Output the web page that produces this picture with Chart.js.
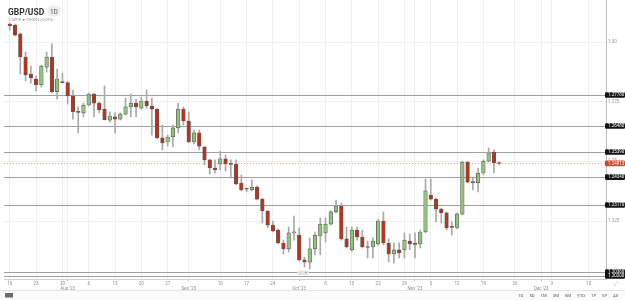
<!DOCTYPE html>
<html>
<head>
<meta charset="utf-8">
<script src="https://cdn.jsdelivr.net/npm/chart.js@4.4.0/dist/chart.umd.min.js"></script>
<style>
  html, body { margin: 0; padding: 0; background: #fff; }
  #c { display: block; }
</style>
</head>
<body>
<canvas id="c" width="625" height="300"></canvas>
<script>
// GBP/USD daily candles, Jul 17 - Nov 23 2023
const symbol = 'GBP/USD';
const interval = '1D';
const quoteText = '1.24910';
const changeText = '0.00016 (-0.01%)';
const firstDay = Date.UTC(2023, 6, 17);
const lastFutureDay = Date.UTC(2023, 11, 13);

const opens = [1.3075, 1.3071, 1.3034, 1.2937, 1.2866, 1.2845, 1.2820, 1.2895, 1.2937, 1.2792,
  1.2832, 1.2830, 1.2774, 1.2707, 1.2703, 1.2736, 1.2782, 1.2744, 1.2719, 1.2673,
  1.2686, 1.2677, 1.2698, 1.2728, 1.2744, 1.2723, 1.2753, 1.2732, 1.2719, 1.2598,
  1.2581, 1.2602, 1.2640, 1.2719, 1.2669, 1.2581, 1.2619, 1.2560, 1.2506, 1.2472,
  1.2489, 1.2510, 1.2489, 1.2487, 1.2409, 1.2384, 1.2380, 1.2392, 1.2342, 1.2292,
  1.2233, 1.2212, 1.2158, 1.2133, 1.2200, 1.2191, 1.2087, 1.2078, 1.2133, 1.2187,
  1.2200, 1.2237, 1.2288, 1.2313, 1.2175, 1.2129, 1.2212, 1.2183, 1.2141, 1.2141,
  1.2154, 1.2250, 1.2158, 1.2112, 1.2129, 1.2129, 1.2166, 1.2154, 1.2154, 1.2204,
  1.2359, 1.2342, 1.2300, 1.2284, 1.2225, 1.2223, 1.2279, 1.2497, 1.2413, 1.2411,
  1.2451, 1.2501, 1.2539, 1.2493];
const highs = [1.3080, 1.3075, 1.3038, 1.2958, 1.2899, 1.2858, 1.2903, 1.2958, 1.2992, 1.2887,
  1.2870, 1.2834, 1.2799, 1.2728, 1.2744, 1.2786, 1.2784, 1.2749, 1.2816, 1.2707,
  1.2703, 1.2703, 1.2765, 1.2782, 1.2761, 1.2770, 1.2799, 1.2765, 1.2721, 1.2652,
  1.2610, 1.2652, 1.2744, 1.2728, 1.2707, 1.2631, 1.2631, 1.2564, 1.2508, 1.2506,
  1.2543, 1.2527, 1.2506, 1.2506, 1.2443, 1.2388, 1.2422, 1.2397, 1.2346, 1.2294,
  1.2250, 1.2217, 1.2170, 1.2225, 1.2271, 1.2221, 1.2099, 1.2179, 1.2204, 1.2263,
  1.2263, 1.2294, 1.2338, 1.2325, 1.2225, 1.2225, 1.2225, 1.2212, 1.2166, 1.2179,
  1.2258, 1.2288, 1.2175, 1.2158, 1.2158, 1.2200, 1.2196, 1.2200, 1.2212, 1.2426,
  1.2426, 1.2346, 1.2304, 1.2288, 1.2246, 1.2284, 1.2501, 1.2499, 1.2430, 1.2472,
  1.2506, 1.2556, 1.2548, 1.2497];
const lows = [1.3050, 1.3025, 1.2866, 1.2837, 1.2828, 1.2795, 1.2811, 1.2874, 1.2786, 1.2761,
  1.2828, 1.2740, 1.2677, 1.2619, 1.2686, 1.2732, 1.2686, 1.2703, 1.2673, 1.2665,
  1.2619, 1.2673, 1.2694, 1.2686, 1.2686, 1.2719, 1.2723, 1.2610, 1.2594, 1.2548,
  1.2564, 1.2560, 1.2619, 1.2652, 1.2579, 1.2573, 1.2548, 1.2485, 1.2447, 1.2451,
  1.2464, 1.2460, 1.2430, 1.2401, 1.2376, 1.2372, 1.2376, 1.2338, 1.2242, 1.2221,
  1.2204, 1.2154, 1.2112, 1.2120, 1.2170, 1.2082, 1.2057, 1.2049, 1.2108, 1.2108,
  1.2162, 1.2233, 1.2284, 1.2170, 1.2137, 1.2124, 1.2170, 1.2137, 1.2095, 1.2095,
  1.2149, 1.2149, 1.2078, 1.2074, 1.2095, 1.2095, 1.2129, 1.2095, 1.2137, 1.2200,
  1.2338, 1.2246, 1.2242, 1.2212, 1.2191, 1.2217, 1.2275, 1.2409, 1.2380, 1.2372,
  1.2443, 1.2497, 1.2451, 1.2485];
const closes = [1.3067, 1.3029, 1.2937, 1.2862, 1.2849, 1.2820, 1.2899, 1.2937, 1.2792, 1.2845,
  1.2830, 1.2774, 1.2707, 1.2705, 1.2736, 1.2782, 1.2744, 1.2715, 1.2675, 1.2690,
  1.2677, 1.2698, 1.2728, 1.2744, 1.2728, 1.2753, 1.2732, 1.2719, 1.2598, 1.2577,
  1.2602, 1.2640, 1.2719, 1.2669, 1.2581, 1.2619, 1.2564, 1.2506, 1.2472, 1.2464,
  1.2510, 1.2489, 1.2487, 1.2405, 1.2380, 1.2383, 1.2392, 1.2342, 1.2292, 1.2233,
  1.2208, 1.2158, 1.2133, 1.2200, 1.2204, 1.2087, 1.2078, 1.2133, 1.2191, 1.2237,
  1.2237, 1.2288, 1.2313, 1.2175, 1.2141, 1.2212, 1.2183, 1.2141, 1.2139, 1.2166,
  1.2250, 1.2158, 1.2112, 1.2129, 1.2116, 1.2170, 1.2154, 1.2152, 1.2204, 1.2376,
  1.2342, 1.2300, 1.2284, 1.2221, 1.2223, 1.2279, 1.2497, 1.2413, 1.2411, 1.2451,
  1.2501, 1.2535, 1.2493, 1.2491];

// drawn price levels and their tags
const levels = [1.2778, 1.2648, 1.2539, 1.2434, 1.2317, 1.2036, 1.2020];
const levelLabels = ['1.27780', '1.26480', '1.25390', '1.24340', '1.23170', '1.20360', '1.20200'];
const lastPrice = 1.24913;
const lastPriceLabel = '1.24913';

const priceTicks = [1.225, 1.25, 1.275, 1.30];
const priceTickLabels = ['1.225', '1.25', '1.275', '1.30'];
const rangeButtons = ['1D', '5D', '1M', '3M', '6M', 'YTD', '1Y', '5Y', 'All'];
const monthNames = ['Jan', 'Feb', 'Mar', 'Apr', 'May', 'Jun', 'Jul', 'Aug', 'Sep', 'Oct', 'Nov', 'Dec'];

const FONT = 'Roboto, "Open Sans", Arial, sans-serif';
const DAY = 86400000;

// slots: trading days for history, calendar days for the empty future part
const slotDates = [];
let t = firstDay;
while (slotDates.length < opens.length) {
  const wd = new Date(t).getUTCDay();
  if (wd !== 0 && wd !== 6) slotDates.push(t);
  t += DAY;
}
while (t <= lastFutureDay) {
  slotDates.push(t);
  t += DAY;
}

const sundayOf = (ms) => ms - new Date(ms).getUTCDay() * DAY;

// week ticks carry the Sunday date, month ticks go on a second line
const xTicks = [];
slotDates.forEach((ms, i) => {
  const dt = new Date(ms);
  if (i === 0) {
    xTicks.push({ value: 0, label: String(new Date(sundayOf(ms)).getUTCDate()) });
    return;
  }
  const prev = new Date(slotDates[i - 1]);
  if (dt.getUTCMonth() !== prev.getUTCMonth()) {
    xTicks.push({ value: i, month: true, label: ['', monthNames[dt.getUTCMonth()] + " '" + String(dt.getUTCFullYear()).slice(2)] });
    return;
  }
  if (sundayOf(ms) !== sundayOf(slotDates[i - 1])) {
    const last = xTicks[xTicks.length - 1];
    if (last.month && i - last.value < 2) return;
    xTicks.push({ value: i, label: String(new Date(sundayOf(ms)).getUTCDate()) });
  }
});

const bodyData = opens.map((o, i) => ({ x: i, y: [Math.min(o, closes[i]), Math.max(o, closes[i])] }));
const wickData = opens.map((o, i) => ({ x: i, y: [lows[i], highs[i]] }));

const roundRect = (ctx, x, y, w, h, r) => {
  ctx.beginPath();
  ctx.moveTo(x + r, y);
  ctx.lineTo(x + w - r, y);
  ctx.quadraticCurveTo(x + w, y, x + w, y + r);
  ctx.lineTo(x + w, y + h - r);
  ctx.quadraticCurveTo(x + w, y + h, x + w - r, y + h);
  ctx.lineTo(x + r, y + h);
  ctx.quadraticCurveTo(x, y + h, x, y + h - r);
  ctx.lineTo(x, y + r);
  ctx.quadraticCurveTo(x, y, x + r, y);
  ctx.closePath();
};

const noPad = (s) => {
  s.paddingLeft = 0;
  s.paddingRight = 0;
  s.paddingTop = 0;
  s.paddingBottom = 0;
};

const overlay = {
  id: 'overlay',
  beforeDatasetsDraw(chart) {
    const { ctx, chartArea: a, scales: { y } } = chart;
    ctx.save();
    ctx.strokeStyle = '#a0a0a0';
    ctx.lineWidth = 1;
    levels.forEach((v) => {
      const py = Math.round(y.getPixelForValue(v)) + 0.5;
      ctx.beginPath();
      ctx.moveTo(a.left, py);
      ctx.lineTo(a.right, py);
      ctx.stroke();
    });
    const lp = Math.round(y.getPixelForValue(lastPrice)) + 0.5;
    ctx.strokeStyle = '#f2a898';
    ctx.setLineDash([1, 2]);
    ctx.beginPath();
    ctx.moveTo(a.left, lp);
    ctx.lineTo(a.right, lp);
    ctx.stroke();
    ctx.restore();
  },
  afterDraw(chart) {
    const { ctx, chartArea: a, scales: { y } } = chart;
    const W = chart.width, H = chart.height;
    ctx.save();
    // price tags
    const tag = (v, text, color) => {
      const py = y.getPixelForValue(v);
      ctx.fillStyle = color;
      roundRect(ctx, a.right - 1, py - 2.8, W - a.right + 1, 5.6, 1.2);
      ctx.fill();
      ctx.fillStyle = '#fff';
      ctx.font = '4.5px ' + FONT;
      ctx.textAlign = 'left';
      ctx.textBaseline = 'middle';
      ctx.fillText(text, a.right + 2, py + 0.2);
    };
    levels.forEach((v, i) => tag(v, levelLabels[i], '#141414'));
    tag(lastPrice, lastPriceLabel, '#d9442a');

    // header
    ctx.textBaseline = 'alphabetic';
    ctx.textAlign = 'left';
    ctx.fillStyle = '#333';
    ctx.font = 'bold 8.5px ' + FONT;
    ctx.fillText(symbol, 8, 14.5);
    const sw = ctx.measureText(symbol).width;
    ctx.fillStyle = '#eeeeee';
    roundRect(ctx, 8 + sw + 3, 5.5, 13.5, 11, 5.5);
    ctx.fill();
    ctx.fillStyle = '#555';
    ctx.font = '6.5px ' + FONT;
    ctx.textAlign = 'center';
    ctx.fillText(interval, 8 + sw + 9.7, 13.5);
    ctx.textAlign = 'left';
    ctx.font = '3.6px ' + FONT;
    ctx.fillStyle = '#888';
    ctx.fillText(quoteText, 8, 21);
    const qw = ctx.measureText(quoteText + ' ').width;
    ctx.fillStyle = '#d9442a';
    ctx.fillText('\u25BC', 8 + qw, 21);
    const aw = ctx.measureText('\u25BC ').width;
    ctx.fillStyle = '#888';
    ctx.fillText(changeText, 8 + qw + aw, 21);

    // zoom control near the bottom of the plot
    ctx.fillStyle = '#e4e4e4';
    roundRect(ctx, 297, 270.5, 12, 4.5, 2);
    ctx.fill();
    ctx.fillStyle = '#777';
    ctx.font = '4px ' + FONT;
    ctx.textAlign = 'center';
    ctx.textBaseline = 'middle';
    ctx.fillText('\u2212', 300, 272.8);
    ctx.fillText('+', 306, 272.8);

    // expand icon
    ctx.fillStyle = '#999';
    ctx.font = '5px ' + FONT;
    ctx.fillText('\u2922', 616, 284);

    // bottom toolbar
    ctx.fillStyle = '#fbfbfb';
    ctx.fillRect(0, 290, W, H - 290);
    ctx.strokeStyle = '#e6e6e6';
    ctx.beginPath();
    ctx.moveTo(0, 290.5);
    ctx.lineTo(W, 290.5);
    ctx.stroke();
    ctx.fillStyle = '#6b6b6b';
    ctx.fillRect(5, 293, 8, 4.5);
    ctx.fillStyle = '#555';
    ctx.font = '4.3px ' + FONT;
    ctx.textBaseline = 'middle';
    ctx.textAlign = 'right';
    let bx = 618;
    for (let i = rangeButtons.length - 1; i >= 0; i--) {
      ctx.fillText(rangeButtons[i], bx, 296);
      bx -= ctx.measureText(rangeButtons[i]).width + 6;
    }
    ctx.restore();
  }
};

new Chart(document.getElementById('c'), {
  type: 'bar',
  data: {
    datasets: [
      {
        label: 'body',
        data: bodyData,
        order: 0,
        grouped: false,
        barThickness: 3.6,
        minBarLength: 1,
        borderWidth: 0.7,
        borderSkipped: false,
        borderColor: '#5a5a5a',
        backgroundColor: (c) => {
          const i = c.dataIndex;
          return closes[i] > opens[i] ? '#8fc47b' : '#b8321c';
        }
      },
      {
        label: 'wick',
        data: wickData,
        order: 1,
        grouped: false,
        barThickness: 1,
        borderWidth: 0,
        backgroundColor: '#a9a9a9'
      }
    ]
  },
  options: {
    responsive: false,
    animation: false,
    devicePixelRatio: 1,
    layout: { padding: { left: 4, top: 0, right: 0, bottom: 0 } },
    plugins: { legend: { display: false }, tooltip: { enabled: false } },
    scales: {
      x: {
        type: 'linear',
        offset: false,
        min: -1.1,
        max: 113.3,
        afterFit: (s) => { s.height = 21; noPad(s); },
        afterBuildTicks: (s) => { s.ticks = xTicks.map((tk) => ({ value: tk.value })); },
        ticks: {
          autoSkip: false,
          maxRotation: 0,
          padding: 0,
          color: '#8a8a8a',
          font: { size: 4.5, family: FONT, lineHeight: 1.1 },
          callback: (v, i) => xTicks[i] ? xTicks[i].label : ''
        },
        grid: {
          offset: false,
          color: '#f0f0f0',
          tickLength: 2,
          tickColor: (c) => (xTicks[c.index] && xTicks[c.index].month ? '#bbbbbb' : 'rgba(0,0,0,0)')
        },
        border: { color: '#cfcfcf' }
      },
      y: {
        position: 'right',
        min: 1.2007,
        max: 1.3176,
        afterFit: (s) => { s.width = 19; noPad(s); },
        afterBuildTicks: (s) => { s.ticks = priceTicks.map((v) => ({ value: v })); },
        ticks: {
          padding: 2,
          color: '#9a9a9a',
          font: { size: 4.5, family: FONT },
          callback: (v, i) => priceTickLabels[i]
        },
        grid: { color: '#f0f0f0', drawTicks: false },
        border: { color: '#bdbdbd' }
      }
    }
  },
  plugins: [overlay]
});
</script>
</body>
</html>
